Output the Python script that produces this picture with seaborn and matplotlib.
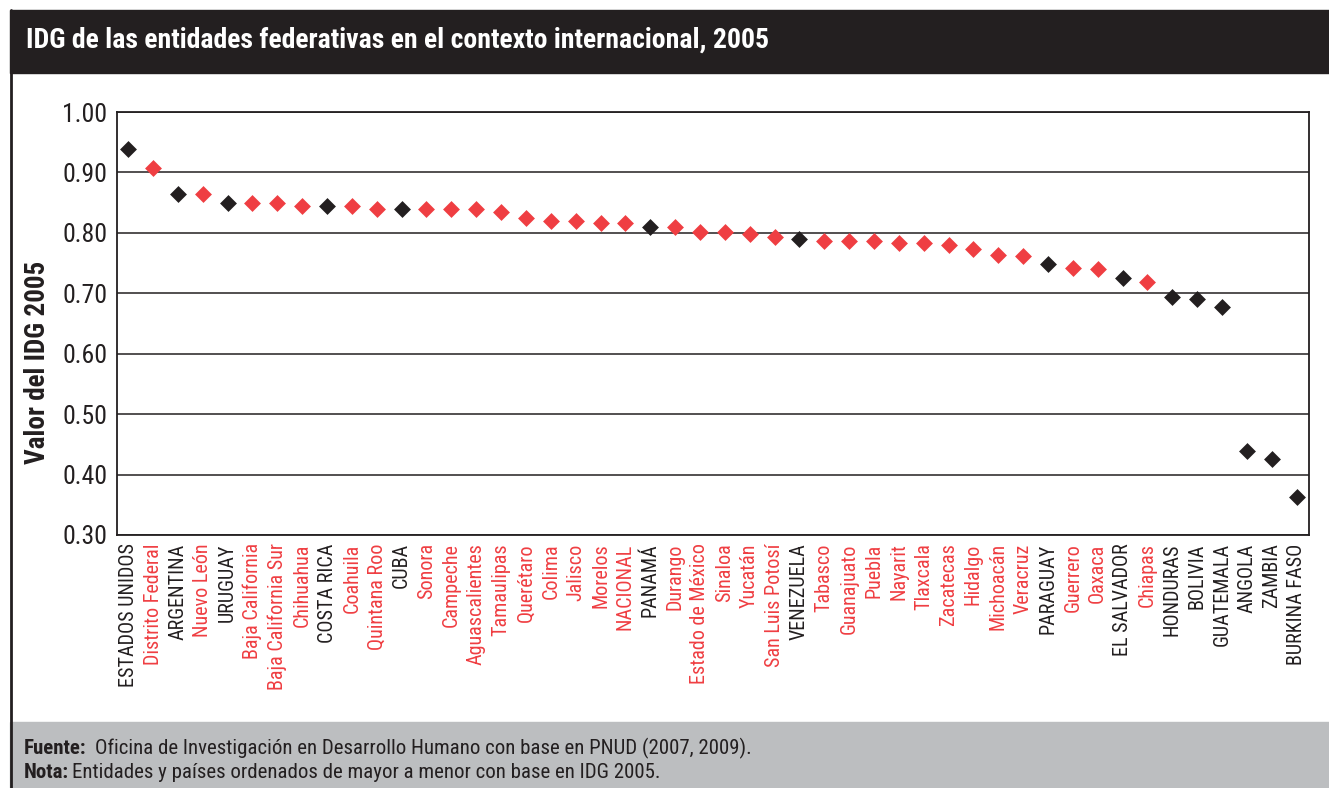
import matplotlib
matplotlib.use('Agg')
import matplotlib.pyplot as plt
import seaborn as sns
import pandas as pd
from matplotlib.patches import Rectangle
from matplotlib.lines import Line2D
from matplotlib import font_manager

# Data: entities (red) and countries (black), ordered by IDG 2005
names = ['ESTADOS UNIDOS', 'Distrito Federal', 'ARGENTINA', 'Nuevo León', 'URUGUAY',
         'Baja California', 'Baja California Sur', 'Chihuahua', 'COSTA RICA', 'Coahuila',
         'Quintana Roo', 'CUBA', 'Sonora', 'Campeche', 'Aguascalientes', 'Tamaulipas',
         'Querétaro', 'Colima', 'Jalisco', 'Morelos', 'NACIONAL', 'PANAMÁ', 'Durango',
         'Estado de México', 'Sinaloa', 'Yucatán', 'San Luis Potosí', 'VENEZUELA',
         'Tabasco', 'Guanajuato', 'Puebla', 'Nayarit', 'Tlaxcala', 'Zacatecas', 'Hidalgo',
         'Michoacán', 'Veracruz', 'PARAGUAY', 'Guerrero', 'Oaxaca', 'EL SALVADOR',
         'Chiapas', 'HONDURAS', 'BOLIVIA', 'GUATEMALA', 'ANGOLA', 'ZAMBIA', 'BURKINA FASO']
idg = [0.939, 0.907, 0.865, 0.865, 0.849,
       0.849, 0.849, 0.845, 0.845, 0.845,
       0.840, 0.840, 0.839, 0.839, 0.839, 0.834,
       0.825, 0.820, 0.820, 0.816, 0.816, 0.809, 0.810,
       0.802, 0.802, 0.798, 0.793, 0.790,
       0.787, 0.787, 0.787, 0.784, 0.784, 0.780, 0.773,
       0.764, 0.761, 0.748, 0.742, 0.740, 0.726,
       0.718, 0.694, 0.690, 0.677, 0.439, 0.426, 0.363]
group = ['País', 'Entidad', 'País', 'Entidad', 'País',
         'Entidad', 'Entidad', 'Entidad', 'País', 'Entidad',
         'Entidad', 'País', 'Entidad', 'Entidad', 'Entidad', 'Entidad',
         'Entidad', 'Entidad', 'Entidad', 'Entidad', 'Entidad', 'País', 'Entidad',
         'Entidad', 'Entidad', 'Entidad', 'Entidad', 'País',
         'Entidad', 'Entidad', 'Entidad', 'Entidad', 'Entidad', 'Entidad', 'Entidad',
         'Entidad', 'Entidad', 'País', 'Entidad', 'Entidad', 'País',
         'Entidad', 'País', 'País', 'País', 'País', 'País', 'País']
y_ticks = [0.30, 0.40, 0.50, 0.60, 0.70, 0.80, 0.90, 1.00]

RED = '#ef3e42'
DARK = '#231f20'
palette = {'Entidad': RED, 'País': DARK}

df = pd.DataFrame({'nombre': names, 'idg': idg, 'grupo': group})

sns.set_theme(style='white')
# pick a condensed face if one is installed
installed = {f.name for f in font_manager.fontManager.ttflist}
family = 'DejaVu Sans'
for cand in ['Roboto Condensed', 'Liberation Sans Narrow', 'DejaVu Sans Condensed']:
    if cand in installed:
        family = cand
        break
plt.rcParams['font.family'] = [family, 'DejaVu Sans']
k = 1.0 if family != 'DejaVu Sans' else 0.84

fig = plt.figure(figsize=(13.29, 7.88), dpi=100)

# Frame: title bar, left rule, footer band
fig.patches.append(Rectangle((10 / 1329, 1 - 73 / 788), 1, 63 / 788,
                             transform=fig.transFigure, color=DARK, zorder=0))
fig.patches.append(Rectangle((10 / 1329, 0), 1, 66 / 788,
                             transform=fig.transFigure, color='#bcbec0', zorder=0))
fig.lines.append(Line2D([10.5 / 1329, 10.5 / 1329], [0, 1 - 10 / 788],
                        transform=fig.transFigure, color=DARK, lw=2))

fig.text(26 / 1329, 1 - 40 / 788,
         'IDG de las entidades federativas en el contexto internacional, 2005',
         color='white', fontsize=20 * k, fontweight='bold', va='center', ha='left')

# footer: bold lead word followed by regular text
renderer = fig.canvas.get_renderer()
for y_px, lead, rest, gap in [(748, 'Fuente:', 'Oficina de Investigación en Desarrollo Humano con base en PNUD (2007, 2009).', 8),
                              (773, 'Nota:', 'Entidades y países ordenados de mayor a menor con base en IDG 2005.', 3)]:
    t = fig.text(24 / 1329, 1 - y_px / 788, lead, fontsize=15 * k, fontweight='bold',
                 color=DARK, va='center')
    x_end = t.get_window_extent(renderer).x1
    fig.text((x_end + gap) / 1329, 1 - y_px / 788, rest, fontsize=15 * k,
             color=DARK, va='center')

ax = fig.add_axes([117 / 1329, 1 - 535 / 788, (1309 - 117) / 1329, (535 - 112) / 788])

sns.stripplot(data=df, x='nombre', y='idg', hue='grupo', palette=palette,
              order=names, jitter=False, marker='D', size=8.6, linewidth=0,
              legend=False, ax=ax, zorder=3)

ax.set_ylim(0.30, 1.00)
ax.set_yticks(y_ticks)
ax.set_yticklabels([f'{v:.2f}' for v in y_ticks])
ax.set_xlim(-0.45, len(names) - 0.5)
ax.grid(axis='y', color=DARK, linewidth=1.1)
ax.grid(axis='x', visible=False)
ax.set_axisbelow(True)
for s in ax.spines.values():
    s.set_visible(True)
    s.set_color(DARK)
    s.set_linewidth(1.3)

ax.tick_params(axis='y', length=0, pad=7, labelsize=18.5 * k, labelcolor=DARK)
ax.tick_params(axis='x', length=0, pad=6, labelsize=14.5 * k, rotation=90)
for lbl, g in zip(ax.get_xticklabels(), group):
    lbl.set_color(palette[g])

ax.set_xlabel('')
ax.set_ylabel('Valor del IDG 2005', fontsize=19.5 * k, fontweight='bold', color=DARK)
ax.yaxis.set_label_coords(-66 / 1192, 0.407)

fig.savefig('out.png', dpi=100)
